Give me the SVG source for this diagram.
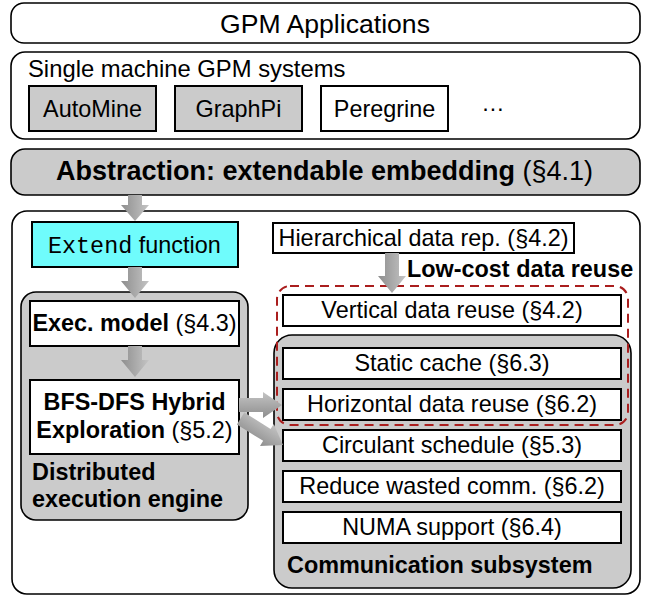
<svg xmlns="http://www.w3.org/2000/svg" width="647" height="598" viewBox="0 0 647 598">
<defs>
<linearGradient id="ag" x1="0" y1="0" x2="1" y2="0">
<stop offset="0" stop-color="#8e8e8e"/>
<stop offset="1" stop-color="#c4c4c4"/>
</linearGradient>
<style>
text{font-family:"Liberation Sans",Arial,sans-serif;font-size:23.4px;fill:#000}
.b{font-weight:bold}
.c{text-anchor:middle}
.mono{font-family:"Liberation Mono","Courier New",monospace}
.lay{fill:#fff;stroke:#000;stroke-width:1.6}
.layg{fill:#cbcbcb;stroke:#000;stroke-width:1.6}
.box{fill:#fff;stroke:#000;stroke-width:2}
.boxg{fill:#cbcbcb;stroke:#000;stroke-width:2}
.arr{fill:url(#ag);stroke:none}
</style>
</defs>

<g id="gpm-apps">
<rect class="lay" x="11" y="3" width="629" height="40" rx="13"/>
<text class="c" x="325" y="33" style="font-size:26.6px">GPM Applications</text>
</g>

<g id="single-machine">
<rect class="lay" x="11" y="52" width="629" height="87" rx="14"/>
<text x="28" y="77" style="font-size:23.8px">Single machine GPM systems</text>
</g>
<g id="automine">
<rect class="boxg" x="29" y="86" width="127" height="45"/>
<text class="c" x="92.5" y="117">AutoMine</text>
</g>
<g id="graphpi">
<rect class="boxg" x="175" y="86" width="127" height="45"/>
<text class="c" x="238.5" y="117">GraphPi</text>
</g>
<g id="peregrine">
<rect class="box" x="321" y="86" width="127" height="45"/>
<text class="c" x="384.5" y="117">Peregrine</text>
</g>
<g id="more">
<text class="c" x="493" y="111">…</text>
</g>

<g id="abstraction">
<rect class="layg" x="11" y="149" width="629" height="46" rx="14"/>
<text class="c" x="324.5" y="180" style="font-size:27px"><tspan class="b">Abstraction: extendable embedding</tspan> (§4.1)</text>
</g>

<g id="system">
<rect class="lay" x="12" y="211" width="628" height="383" rx="15"/>
</g>

<g id="extend">
<rect x="32" y="222" width="206" height="45" fill="#6ffcfc" stroke="#000" stroke-width="2"/>
<text x="48" y="253"><tspan class="mono">Extend</tspan> function</text>
</g>

<g id="engine">
<rect class="layg" x="21" y="292" width="227" height="228" rx="15"/>
<text class="b" x="32" y="480">Distributed</text>
<text class="b" x="32" y="507">execution engine</text>
</g>
<g id="exec-model">
<rect class="box" x="30" y="301" width="209" height="45"/>
<text class="c" x="134.5" y="331"><tspan class="b">Exec. model</tspan> (§4.3)</text>
</g>
<g id="bfs-dfs">
<rect class="box" x="30" y="380" width="209" height="74"/>
<text class="c b" x="134.5" y="410">BFS-DFS Hybrid</text>
<text class="c" x="134.5" y="438"><tspan class="b">Exploration</tspan> (§5.2)</text>
</g>

<g id="hier-rep">
<rect class="box" x="273" y="223" width="301" height="30"/>
<text class="c" x="423.5" y="246">Hierarchical data rep. (§4.2)</text>
</g>

<g id="comm">
<rect class="layg" x="274" y="335" width="357" height="253" rx="18"/>
<text class="b" x="287" y="573">Communication subsystem</text>
</g>
<g id="vertical-reuse">
<rect class="box" x="283" y="295" width="338" height="31"/>
<text class="c" x="452" y="318">Vertical data reuse (§4.2)</text>
</g>
<g id="static-cache">
<rect class="box" x="283" y="348" width="338" height="31"/>
<text class="c" x="452" y="371">Static cache (§6.3)</text>
</g>
<g id="horizontal-reuse">
<rect class="box" x="283" y="389" width="338" height="31"/>
<text class="c" x="452" y="412">Horizontal data reuse (§6.2)</text>
</g>
<g id="circulant">
<rect class="box" x="283" y="430" width="338" height="31"/>
<text class="c" x="452" y="453">Circulant schedule (§5.3)</text>
</g>
<g id="reduce-comm">
<rect class="box" x="283" y="471" width="338" height="31"/>
<text class="c" x="452" y="494">Reduce wasted comm. (§6.2)</text>
</g>
<g id="numa">
<rect class="box" x="283" y="512" width="338" height="31"/>
<text class="c" x="452" y="535">NUMA support (§6.4)</text>
</g>

<g id="low-cost-reuse">
<rect x="277" y="286" width="351" height="139" rx="13" fill="none" stroke="#aa1e1e" stroke-width="2" stroke-dasharray="9 6"/>
<text class="b" x="407" y="277">Low-cost data reuse</text>
</g>

<g id="connectors">
<path class="arr" d="M128,195 H142 V205 H149 L135,221 L121,205 H128 Z"/>
<path class="arr" d="M128,267 H142 V281 H149 L135,298 L121,281 H128 Z"/>
<path class="arr" d="M128,346 H142 V360 H149 L135,377 L121,360 H128 Z"/>
<path class="arr" d="M385,253 H399 V276 H406 L392,293 L378,276 H385 Z"/>
<path class="arr" transform="translate(282,405) rotate(-90)" d="M-7,-43 H7 V-19 H13 L0,0 L-13,-19 H-7 Z"/>
<path class="arr" transform="translate(283,445) rotate(-58)" d="M-7,-50 H7 V-19 H13 L0,0 L-13,-19 H-7 Z"/>
</g>
</svg>
